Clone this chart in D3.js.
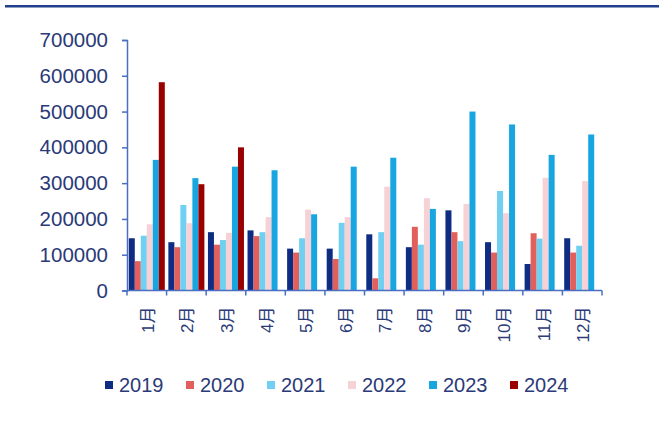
<!DOCTYPE html>
<html>
<head>
<meta charset="utf-8">
<script src="https://cdn.jsdelivr.net/npm/d3@7"></script>
<style>
  html, body { margin: 0; padding: 0; background: #fff; }
  svg { display: block; }
</style>
</head>
<body>
<svg id="chart" width="659" height="421"></svg>
<script>
// Monthly values by year
const months = ["1月","2月","3月","4月","5月","6月","7月","8月","9月","10月","11月","12月"];
const years = ["2019","2020","2021","2022","2023","2024"];
const v2019 = [146000,135000,163000,168000,117000,117000,157000,121000,224000,135000,74000,146000];
const v2020 = [82000,121000,128000,152000,106000,88000,34000,178000,163000,106000,160000,106000];
const v2021 = [153000,239000,141000,163000,146000,189000,163000,128000,138000,278000,145000,125000];
const v2022 = [185000,188000,161000,205000,226000,205000,290000,258000,242000,216000,315000,306000];
const v2023 = [365000,314000,346000,336000,213000,346000,371000,228000,500000,464000,379000,436000];
const v2024 = [582000,297000,400000,null,null,null,null,null,null,null,null,null];
const yTicks = [0,100000,200000,300000,400000,500000,600000,700000];
const colors = ["#0e2d82","#e2605b","#6fd0f2","#f6d1d5","#17a6e0","#990000"];

const series = [v2019, v2020, v2021, v2022, v2023, v2024];

const svg = d3.select("#chart");
const plotLeft = 127, plotRight = 602, plotTop = 40, plotBottom = 290.5;
const axisColor = "#4a6ec2";
const textColor = "#2b3a78";

// Top rule
svg.append("rect").attr("x", 5).attr("y", 5).attr("width", 654).attr("height", 2.5).attr("fill", "#1f3f8c");

const x0 = d3.scaleBand().domain(months).range([plotLeft, plotRight]).paddingInner(0.09).paddingOuter(0.045);
const x1 = d3.scaleBand().domain(years).range([0, x0.bandwidth()]);
const y = d3.scaleLinear().domain([0, 700000]).range([plotBottom, plotTop]);

// Bars
const g = svg.append("g");
months.forEach((m, i) => {
  years.forEach((yr, j) => {
    const val = series[j][i];
    if (val == null) return;
    g.append("rect")
      .attr("x", x0(m) + x1(yr))
      .attr("y", y(val))
      .attr("width", x1.bandwidth())
      .attr("height", y(0) - y(val))
      .attr("fill", colors[j]);
  });
});

// Y axis
const yAxis = svg.append("g")
  .attr("transform", `translate(${plotLeft},0)`)
  .call(d3.axisLeft(y).tickValues(yTicks).tickSize(5).tickPadding(14).tickFormat(d3.format("d")));
yAxis.select(".domain").attr("stroke", axisColor).attr("stroke-width", 1.5);
yAxis.selectAll(".tick line").attr("stroke", axisColor).attr("stroke-width", 1.5);
yAxis.selectAll(".tick text")
  .attr("fill", textColor)
  .style("font-family", "'Liberation Sans', Arial, sans-serif")
  .style("font-size", "20.5px");

// X axis: baseline with ticks at category boundaries
const xg = svg.append("g");
xg.append("line").attr("x1", plotLeft).attr("x2", plotRight).attr("y1", plotBottom).attr("y2", plotBottom)
  .attr("stroke", axisColor).attr("stroke-width", 1.5);
d3.range(months.length + 1).forEach(k => {
  const xx = plotLeft + k * (plotRight - plotLeft) / months.length;
  xg.append("line").attr("x1", xx).attr("x2", xx).attr("y1", plotBottom).attr("y2", plotBottom + 5)
    .attr("stroke", axisColor).attr("stroke-width", 1.5);
});
months.forEach(m => {
  const cx = x0(m) + x0.bandwidth() / 2;
  xg.append("text")
    .attr("transform", `translate(${cx + 7},${plotBottom + 16}) rotate(-90)`)
    .attr("text-anchor", "end")
    .attr("fill", textColor)
    .style("font-family", "'Liberation Sans', 'Noto Sans CJK SC', sans-serif")
    .style("font-size", "17px")
    .text(m);
});

// Legend
const lg = svg.append("g");
years.forEach((yr, j) => {
  const lx = 105 + j * 81;
  lg.append("rect").attr("x", lx).attr("y", 381).attr("width", 8).attr("height", 8).attr("fill", colors[j]);
  lg.append("text").attr("x", lx + 14).attr("y", 392)
    .attr("fill", textColor)
    .style("font-family", "'Liberation Sans', Arial, sans-serif")
    .style("font-size", "20px")
    .text(yr);
});
</script>
</body>
</html>
